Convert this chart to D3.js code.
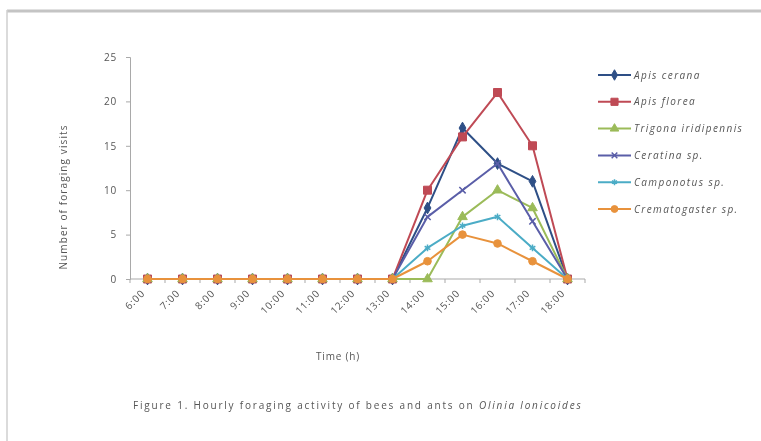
<!DOCTYPE html>
<html>
<head>
<meta charset="utf-8">
<script src="https://cdn.jsdelivr.net/npm/d3@7"></script>
<style>
  html, body { margin: 0; padding: 0; background: #fff; }
  svg { display: block; filter: blur(0.45px); }
  text { font-family: "Open Sans", "DejaVu Sans", sans-serif; fill: #555; }
</style>
</head>
<body>
<svg id="chart" width="761" height="441"></svg>
<script>
// Hourly observation slots
const hours = ["6:00","7:00","8:00","9:00","10:00","11:00","12:00","13:00","14:00","15:00","16:00","17:00","18:00"];
const yTicks = [0, 5, 10, 15, 20, 25];

// Foraging visits per hour for each visitor
const apisCerana    = [0,0,0,0,0,0,0,0, 8,17,13,11,0];
const apisFlorea    = [0,0,0,0,0,0,0,0,10,16,21,15,0];
const trigona       = [0,0,0,0,0,0,0,0, 0, 7,10, 8,0];
const ceratina      = [0,0,0,0,0,0,0,0, 7,10,13, 6.5,0];
const camponotus    = [0,0,0,0,0,0,0,0, 3.5,6,7,3.5,0];
const crematogaster = [0,0,0,0,0,0,0,0, 2,5,4,2,0];

const seriesNames  = ["Apis cerana","Apis florea","Trigona iridipennis","Ceratina sp.","Camponotus sp.","Crematogaster sp."];
const seriesValues = [apisCerana, apisFlorea, trigona, ceratina, camponotus, crematogaster];
const seriesColors = ["#2e4f86","#bf4a55","#9bbb59","#5a5ea8","#4bacc6","#e8923c"];
const seriesMarkers = ["diamond","square","triangle","cross","star","circle"];

const svg = d3.select("#chart");

// outer frame (top and left edges)
svg.append("line").attr("x1", 7).attr("x2", 761).attr("y1", 11).attr("y2", 11)
  .attr("stroke", "#c4c4c4").attr("stroke-width", 3);
svg.append("line").attr("x1", 7).attr("x2", 7).attr("y1", 10).attr("y2", 441)
  .attr("stroke", "#cfcfcf").attr("stroke-width", 1.5);

const plot = { left: 130, right: 585, top: 57, bottom: 279 };

const x = d3.scaleBand().domain(hours).range([plot.left, plot.right]).padding(0);
const cx = h => x(h) + x.bandwidth() / 2;
const y = d3.scaleLinear().domain([0, 25]).range([plot.bottom, plot.top]);

// y axis
const yAxis = svg.append("g").attr("transform", `translate(${plot.left},0)`)
  .call(d3.axisLeft(y).tickValues(yTicks).tickSize(4).tickPadding(9));
yAxis.select(".domain").attr("stroke", "#a9a9a9");
yAxis.selectAll(".tick line").attr("stroke", "#a9a9a9");
yAxis.selectAll(".tick text").style("font-size", "10px").style("fill", "#555")
  .style("letter-spacing", "0.8px");

// x axis with ticks between categories
svg.append("line").attr("x1", plot.left).attr("x2", plot.right)
  .attr("y1", plot.bottom).attr("y2", plot.bottom).attr("stroke", "#a9a9a9");
svg.append("g").selectAll("line").data(hours.concat(["end"])).join("line")
  .attr("x1", (d, i) => plot.left + i * x.bandwidth())
  .attr("x2", (d, i) => plot.left + i * x.bandwidth())
  .attr("y1", plot.bottom).attr("y2", plot.bottom + 4)
  .attr("stroke", "#a9a9a9");
svg.append("g").selectAll("text").data(hours).join("text")
  .attr("transform", d => `translate(${cx(d) - 2},${plot.bottom + 15}) rotate(-45)`)
  .attr("text-anchor", "end")
  .style("font-size", "10px").style("letter-spacing", "0.8px")
  .text(d => d);

// axis titles
svg.append("text").attr("x", 338).attr("y", 360).attr("text-anchor", "middle")
  .style("font-size", "10px").style("letter-spacing", "0.8px").text("Time (h)");
svg.append("text").attr("transform", "translate(67,197) rotate(-90)")
  .attr("text-anchor", "middle").style("font-size", "10px").style("letter-spacing", "1.1px")
  .text("Number of foraging visits");

// marker shapes
function markerPath(kind, size) {
  switch (kind) {
    case "diamond":  return d3.symbol(d3.symbolDiamond, size)();
    case "square":   return d3.symbol(d3.symbolSquare, size)();
    case "triangle": return d3.symbol(d3.symbolTriangle, size)();
    case "cross":    return d3.symbol(d3.symbolX, size)();
    case "star":     return d3.symbol(d3.symbolAsterisk, size)();
    default:         return d3.symbol(d3.symbolCircle, size)();
  }
}
const markerSize = { diamond: 40, square: 64, triangle: 40, cross: 28, star: 30, circle: 46 };

const line = d3.line().x((d, i) => cx(hours[i])).y(d => y(d));

seriesValues.forEach((vals, s) => {
  const g = svg.append("g");
  g.append("path").datum(vals).attr("d", line)
    .attr("fill", "none").attr("stroke", seriesColors[s]).attr("stroke-width", 2)
    .attr("stroke-linejoin", "round");
  const kind = seriesMarkers[s];
  const open = kind === "cross" || kind === "star";
  g.selectAll("path.m").data(vals).join("path").attr("class", "m")
    .attr("transform", (d, i) => `translate(${cx(hours[i])},${y(d)})`)
    .attr("d", markerPath(kind, markerSize[kind]))
    .attr("fill", open ? "none" : seriesColors[s])
    .attr("stroke", seriesColors[s])
    .attr("stroke-width", open ? 1.5 : 1);
});

// legend
const legend = svg.append("g");
seriesNames.forEach((name, s) => {
  const ly = 75 + s * 26.8;
  const kind = seriesMarkers[s];
  const open = kind === "cross" || kind === "star";
  legend.append("line").attr("x1", 598).attr("x2", 631).attr("y1", ly).attr("y2", ly)
    .attr("stroke", seriesColors[s]).attr("stroke-width", 2);
  legend.append("path").attr("transform", `translate(614.5,${ly})`)
    .attr("d", markerPath(kind, markerSize[kind] * 0.8))
    .attr("fill", open ? "none" : seriesColors[s])
    .attr("stroke", seriesColors[s]).attr("stroke-width", open ? 1.5 : 1);
  legend.append("text").attr("x", 634).attr("y", ly + 3.5)
    .style("font-size", "10px").style("font-style", "italic").style("letter-spacing", "1.4px")
    .text(name);
});

// caption
const cap = svg.append("text").attr("x", 133).attr("y", 409)
  .style("font-size", "10px").style("letter-spacing", "1.8px");
cap.append("tspan").text("Figure 1.  Hourly foraging activity of bees and ants on ");
cap.append("tspan").style("font-style", "italic").text("Olinia lonicoides");
</script>
</body>
</html>
